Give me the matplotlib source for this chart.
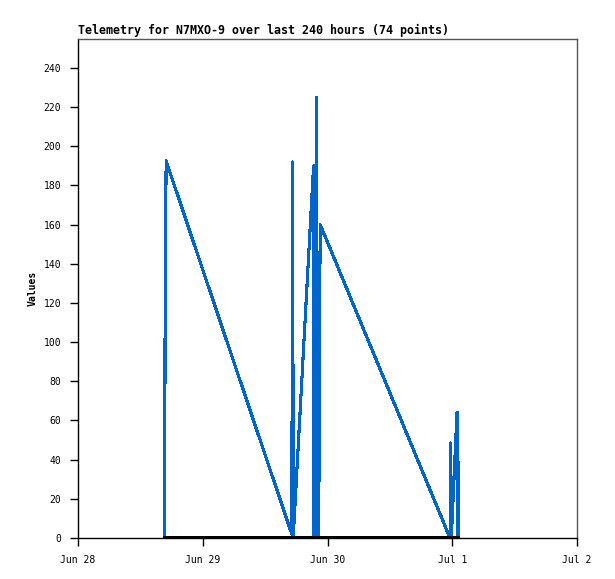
import matplotlib
matplotlib.use("Agg")
import matplotlib.pyplot as plt
import pandas as pd

title = "Telemetry for N7MXO-9 over last 240 hours (74 points)"
ylabel = "Values"

times = [
    "2023-06-28 16:43", "2023-06-28 16:44", "2023-06-28 16:57",
    "2023-06-29 17:08", "2023-06-29 17:17", "2023-06-29 17:25",
    "2023-06-29 21:19", "2023-06-29 21:24", "2023-06-29 21:29",
    "2023-06-29 21:34", "2023-06-29 21:39", "2023-06-29 21:45",
    "2023-06-29 21:55", "2023-06-29 22:01", "2023-06-29 22:05",
    "2023-06-29 22:10", "2023-06-29 22:15", "2023-06-29 22:20",
    "2023-06-29 22:24", "2023-06-29 22:36",
    "2023-06-30 23:34", "2023-06-30 23:43", "2023-06-30 23:49",
    "2023-07-01 00:55", "2023-07-01 00:59", "2023-07-01 01:04",
    "2023-07-01 01:09",
]
values = [
    0, 96.5, 192.5,
    2, 192, 1,
    190, 0, 186,
    0, 190, 0,
    225, 0, 80,
    0, 80, 0,
    80, 160,
    0, 48.5, 0,
    64, 0, 64,
    0,
]
zero_series = [0] * len(values)

tick_dates = ["2023-06-28", "2023-06-29", "2023-06-30", "2023-07-01", "2023-07-02"]
tick_labels = ["Jun 28", "Jun 29", "Jun 30", "Jul 1", "Jul 2"]
y_ticks = list(range(0, 241, 20))

t = pd.to_datetime(times)
tk = pd.to_datetime(tick_dates)

fig = plt.figure(figsize=(6.15, 5.79), dpi=100)
ax = fig.add_axes([78/615, 1 - 538/579, (577-78)/615, (538-38.5)/579])

ax.plot(t, values, color="#0066CC", lw=1.5, antialiased=False, zorder=2)
ax.plot(t, zero_series, color="black", lw=1.5, antialiased=False, zorder=3)

ax.set_xlim(tk[0], tk[-1])
ax.set_ylim(0, 255)
ax.set_xticks(tk)
ax.set_xticklabels(tick_labels)
ax.set_yticks(y_ticks)

mono = "DejaVu Sans Mono"
for lab in ax.get_xticklabels() + ax.get_yticklabels():
    lab.set_fontfamily(mono)
    lab.set_fontsize(7)
ax.tick_params(axis="both", direction="out", length=6, width=1, color="black", pad=6)

ax.set_title(title, loc="left", fontfamily=mono, fontweight="bold", fontsize=8.4, pad=3)
ax.set_ylabel(ylabel, fontfamily=mono, fontweight="bold", fontsize=7, labelpad=4)

for s in ["left", "bottom"]:
    ax.spines[s].set_color("black")
    ax.spines[s].set_linewidth(1)
for s in ["top", "right"]:
    ax.spines[s].set_color("#555555")
    ax.spines[s].set_linewidth(1)

fig.savefig("out.png", dpi=100)
